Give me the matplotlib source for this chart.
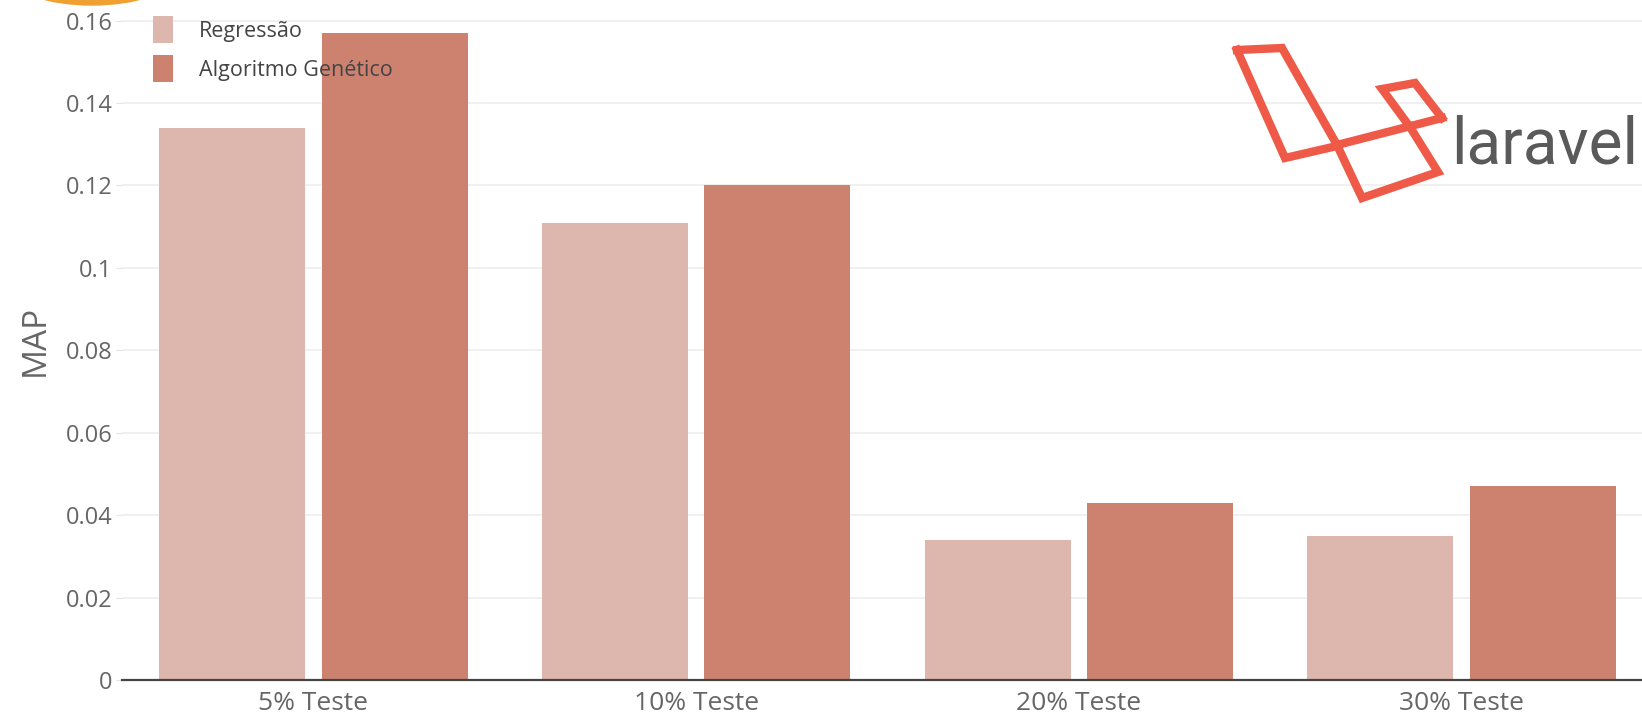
import matplotlib.pyplot as plt
import numpy as np
from matplotlib.patches import Ellipse
from matplotlib.ticker import FuncFormatter

plt.rcParams['font.family'] = ['Open Sans', 'DejaVu Sans']

categorias = ['5% Teste', '10% Teste', '20% Teste', '30% Teste']
regressao = [0.134, 0.111, 0.034, 0.035]
genetico = [0.157, 0.120, 0.043, 0.047]
nomes = ['Regressão', 'Algoritmo Genético']
cores = ['#ddb7ae', '#cd8270']

W, H = 1642, 713
fig = plt.figure(figsize=(W / 100, H / 100), dpi=100)
# axes run a bit past the right edge of the canvas
ax = fig.add_axes([122 / W, (H - 680) / H, (1653 - 122) / W, 680 / H])

x = np.arange(len(categorias))
largura = 0.3815
desloc = 0.2125
ax.bar(x - desloc, regressao, largura, color=cores[0], label=nomes[0], zorder=2)
ax.bar(x + desloc, genetico, largura, color=cores[1], label=nomes[1], zorder=2)

ax.set_xlim(-0.5, 3.5)
ax.set_ylim(0, 0.165)
ax.set_yticks(np.arange(0, 0.161, 0.02))
ax.yaxis.set_major_formatter(FuncFormatter(lambda v, p: '0' if v == 0 else f'{v:g}'))
ax.set_xticks(x)
ax.set_xticklabels(categorias)
ax.grid(axis='y', color='#eeeeee', linewidth=1.2, zorder=0)
ax.set_axisbelow(True)

for s in ['top', 'right', 'left']:
    ax.spines[s].set_visible(False)
ax.spines['bottom'].set_color('#444444')
ax.spines['bottom'].set_linewidth(1.6)
ax.spines['bottom'].set_zorder(3)

ax.tick_params(axis='y', colors='#e4e4e4', labelcolor='#666666', labelsize=17, length=4, pad=3)
ax.tick_params(axis='x', length=0, labelcolor='#666666', labelsize=19, pad=8)
ax.set_ylabel('MAP', fontsize=24, color='#666666', labelpad=10)

leg = ax.legend(loc='upper left', bbox_to_anchor=(18 / 1531, 0.995), frameon=False,
                fontsize=15.5, labelcolor='#444444', handlelength=0.95, handleheight=1.5,
                handletextpad=1.2, labelspacing=0.6, borderaxespad=0.2)
leg.set_zorder(5)

# laravel logo, drawn in pixel coordinates of the figure
def px(pts):
    return [(a / W, 1 - b / H) for a, b in pts]

logo = '#ee5a47'
tracos = [
    [(1237, 50), (1282, 48), (1337, 145), (1442, 118)],
    [(1237, 50), (1285, 158), (1337, 146)],
    [(1337, 145), (1362, 198), (1438, 172), (1410, 127)],
    [(1407, 123), (1382, 89), (1415, 83), (1442, 118)],
]
for t in tracos:
    pts = px(t)
    fig.add_artist(plt.Line2D([p[0] for p in pts], [p[1] for p in pts], color=logo,
                              linewidth=6, solid_joinstyle='miter', transform=fig.transFigure))
fig.text(1451 / W, 1 - 163 / H, 'laravel', fontsize=46, color='#5a5a5a',
         family=['Roboto', 'DejaVu Sans'], fontweight='normal', va='baseline', ha='left')

# orange blob peeking in at the top left
fig.add_artist(Ellipse((92 / W, 1 + 25 / H), 165 / W, 60 / H, color='#f0a033',
                       transform=fig.transFigure, zorder=5))

fig.savefig('out.png', dpi=100)
